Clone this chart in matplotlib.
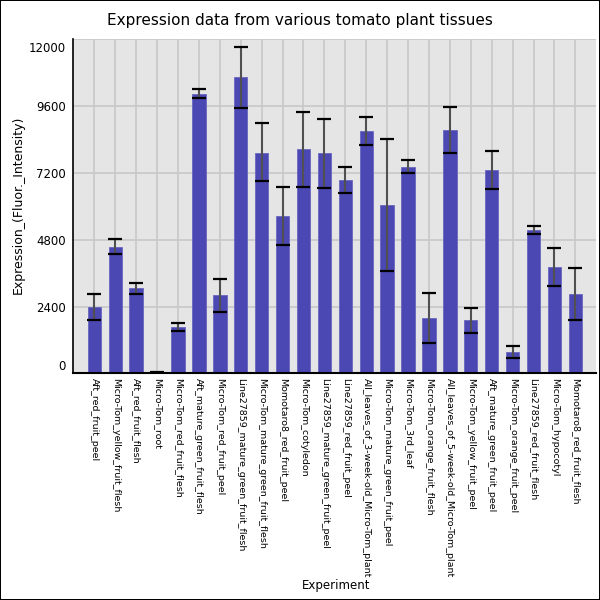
"""
Expression data from various tomato plant tissues — bar chart with error bars
"""

import matplotlib
matplotlib.use("Agg")
import matplotlib.pyplot as plt
import matplotlib.transforms as mtransforms
import numpy as np

# ─── data ────────────────────────────────────────────────────────────────────
experiments = [
    "Aft_red_fruit_peel",
    "Micro-Tom_yellow_fruit_flesh",
    "Aft_red_fruit_flesh",
    "Micro-Tom_root",
    "Micro-Tom_red_fruit_flesh",
    "Aft_mature_green_fruit_flesh",
    "Micro-Tom_red_fruit_peel",
    "Line27859_mature_green_fruit_flesh",
    "Micro-Tom_mature_green_fruit_flesh",
    "Momotaro8_red_fruit_peel",
    "Micro-Tom_cotyledon",
    "Line27859_mature_green_fruit_peel",
    "Line27859_red_fruit_peel",
    "All_leaves_of_3-week-old_Micro-Tom_plant",
    "Micro-Tom_mature_green_fruit_peel",
    "Micro-Tom_3rd_leaf",
    "Micro-Tom_orange_fruit_flesh",
    "All_leaves_of_5-week-old_Micro-Tom_plant",
    "Micro-Tom_yellow_fruit_peel",
    "Aft_mature_green_fruit_peel",
    "Micro-Tom_orange_fruit_peel",
    "Line27859_red_fruit_flesh",
    "Micro-Tom_hypocotyl",
    "Momotaro8_red_fruit_flesh",
]
expression = [2370, 4550, 3050, 40, 1670, 10050, 2800, 10640, 7920, 5650,
              8050, 7900, 6950, 8710, 6060, 7430, 1980, 8750, 1900, 7300,
              770, 5140, 3810, 2860]
err_upper = [2840, 4820, 3260, 60, 1800, 10220, 3390, 11740, 8990, 6710,
             9400, 9140, 7410, 9220, 8430, 7650, 2880, 9580, 2360, 7990,
             990, 5290, 4490, 3790]
err_lower = [1900, 4290, 2850, 20, 1530, 9890, 2210, 9540, 6910, 4600,
             6710, 6660, 6480, 8200, 3690, 7210, 1090, 7920, 1450, 6620,
             550, 5000, 3140, 1930]
y_ticks = [0, 2400, 4800, 7200, 9600, 12000]
# ─────────────────────────────────────────────────────────────────────────────

BAR_COLOR = "#4b47b3"
BG_COLOR  = "#e5e5e5"
GRID_COLOR = "#c8c8c8"


def main():
    values = np.array(expression)
    yerr = np.array([values - np.array(err_lower), np.array(err_upper) - values])
    x = np.arange(len(experiments))

    fig = plt.figure(figsize=(6, 6), dpi=100)
    fig.patch.set_edgecolor("black")
    fig.patch.set_linewidth(1.2)

    ax = fig.add_axes([0.1217, 0.3777, 0.8717, 0.5568])
    ax.set_facecolor(BG_COLOR)

    ax.bar(x, values, width=0.64, color=BAR_COLOR, edgecolor="#6a67c0",
           linewidth=0.6, zorder=2)
    _, caps, _ = ax.errorbar(x, values, yerr=yerr, fmt="none",
                             ecolor="#505050", elinewidth=1.5,
                             capsize=4.8, capthick=1.6, zorder=3)
    for cap in caps:
        cap.set_markeredgecolor("black")
        cap.set_color("black")

    ax.set_xlim(-1.02, 23.99)
    ax.set_ylim(0, 12000)
    ax.set_yticks(y_ticks)
    # the top label is placed by hand below so it sits inside the axes
    tick_text = [str(t) for t in y_ticks]
    ax.set_yticklabels(tick_text[:-1] + [""], fontsize=8.5)
    ax.set_xticks(x)
    ax.set_xticklabels(experiments, rotation=-90, fontsize=6.8,
                       ha="center", va="top")

    ylabels = ax.get_yticklabels()
    ylabels[0].set_va("bottom")

    trans = mtransforms.blended_transform_factory(ax.transAxes, ax.transData)
    trans = trans + mtransforms.ScaledTranslation(-5 / 72, -1.8 / 72,
                                                  fig.dpi_scale_trans)
    ax.text(0, y_ticks[-1], tick_text[-1], transform=trans, ha="right",
            va="top", fontsize=8.5)

    ax.tick_params(axis="both", length=0)
    ax.tick_params(axis="y", pad=5)
    ax.tick_params(axis="x", pad=3)

    ax.grid(True, color=GRID_COLOR, linewidth=1.2, zorder=0)
    ax.set_axisbelow(True)

    for side in ("top", "right"):
        ax.spines[side].set_visible(False)
    ax.spines["left"].set_color("black")
    ax.spines["bottom"].set_color("black")
    ax.spines["left"].set_linewidth(1.2)
    ax.spines["bottom"].set_linewidth(1.5)

    fig.text(0.5, 0.965, "Expression data from various tomato plant tissues",
             ha="center", va="center", fontsize=11)
    fig.text(0.56, 0.025, "Experiment", ha="center", va="center", fontsize=8.5)
    fig.text(0.03, 0.658, "Expression_(Fluor._Intensity)", ha="center",
             va="center", rotation=90, fontsize=9)

    fig.savefig("out.png", dpi=100, edgecolor=fig.get_edgecolor())
    plt.close(fig)


if __name__ == "__main__":
    main()
